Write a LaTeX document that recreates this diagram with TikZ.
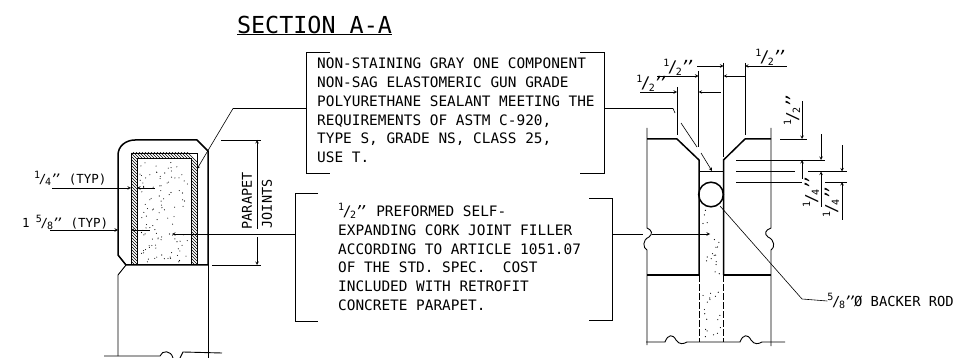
\documentclass[tikz,border=0pt]{standalone}
\usepackage{fontspec}
\setmainfont{DejaVu Sans Mono}
\usetikzlibrary{positioning}
\newcommand{\fracmark}[2]{\raisebox{.42em}{\fontsize{10}{10}\selectfont #1}\kern-.1em/\kern-.1em\raisebox{-.14em}{\fontsize{10}{10}\selectfont #2}}
\newcommand{\inchmark}{\kern-.1em\textit{'\kern-.3em'}}
\tikzstyle{note}=[inner sep=0pt,anchor=north west,align=left,font=\fontsize{14.4}{18.75}\selectfont]
\tikzstyle{dimlabel}=[inner sep=0pt,font=\fontsize{12.5}{15}\selectfont]
\tikzstyle{fraclabel}=[inner sep=0pt,font=\fontsize{16}{18}\selectfont]
\tikzstyle{thinline}=[line width=.6pt]
\tikzstyle{medline}=[line width=.9pt]
\tikzstyle{heavy}=[line width=1.5pt,line join=round]
\tikzstyle{pre}=[<-,>=stealth,line width=.6pt]
\tikzstyle{filler}=[dash pattern=on 7pt off 2pt,line width=.9pt]

\begin{document}
\begin{tikzpicture}[x=1pt,y=-1pt]
        \useasboundingbox (0,0) rectangle (956,358);

        \node[inner sep=0pt,font=\fontsize{23.4}{25}\selectfont] (title) at (314.5,25) {SECTION A-A};
        \draw[medline] (237,34.5) -- (392,34.5);

        \node[note] (sealant) at (317,58) {NON-STAINING GRAY ONE COMPONENT\\NON-SAG ELASTOMERIC GUN GRADE\\POLYURETHANE SEALANT MEETING THE\\REQUIREMENTS OF ASTM C-920,\\TYPE S, GRADE NS, CLASS 25,\\USE T.};
        \node[note] (cork) at (338,203) {\fracmark{1}{2}\inchmark\ PREFORMED SELF-\\EXPANDING CORK JOINT FILLER\\ACCORDING TO ARTICLE 1051.07\\OF THE STD. SPEC.\ \ COST\\INCLUDED WITH RETROFIT\\CONCRETE PARAPET.};

        \draw[medline] (330,52) -- (306.5,52) -- (306.5,173) -- (330,173);
        \draw[medline] (580,52) -- (604,52) -- (604,173) -- (580,173);
        \draw[medline] (318,193.5) -- (295,193.5) -- (295,321) -- (318,321);
        \draw[medline] (589,198) -- (612,198) -- (612,320) -- (589,320);

        \coordinate (seall) at (306.5,108.5);
        \coordinate (sealr) at (604,108.5);
        \coordinate (corkl) at (295,234);
        \coordinate (corkr) at (612,234);

        % parapet section
        \begin{scope}
                \clip (131,153) rectangle (197,265);
                \foreach \s in {0,3,...,180} {
                        \draw[line width=.6pt] (125+\s,270) -- (125+\s-120,150);
                }
        \end{scope}
        \fill[white] (137,158) rectangle (191,265);
        \draw[medline] (137,265) -- (137,158) -- (191,158) -- (191,265);
        \draw[medline] (131,265) -- (131,153) -- (197,153) -- (197,265);
        \pgfmathsetseed{7}
        \foreach \i in {1,...,110} {
                \pgfmathsetmacro{\dotx}{140+48*rnd}
                \pgfmathsetmacro{\doty}{161+101*rnd}
                \fill (\dotx,\doty) circle (.55pt);
        }
        \draw[heavy] (126,265) -- (118,255) -- (118,155) .. controls (118,146) and (126,140) .. (135,140) -- (197,140) -- (208,151) -- (208,265) -- cycle;
        \draw[medline] (126,265) -- (118,275) -- (118,356);
        \draw[medline] (208.5,265) -- (208.5,358);
        \draw[medline] (104,356) -- (160,356) .. controls (162,350) and (171,350) .. (173,358);
        \draw[medline] (180,358) -- (183,352) -- (222,353);

        \node[dimlabel,anchor=west] (quarter) at (34,178) {\fracmark{1}{4}\inchmark\ (TYP)};
        \node[dimlabel,anchor=west] (fivee) at (22,222) {1\kern.5em\fracmark{5}{8}\inchmark\ (TYP)};
        \coordinate (qtail) at (52,188);
        \coordinate (ftail) at (50,230);
        \draw[pre] (131,188) -- (qtail);
        \draw[pre] (137,188) -- (155,188);
        \draw[pre] (118,230) -- (ftail);
        \draw[pre] (131,230) -- (150,230);
        \draw[pre] (172,234) -- (corkl);

        \draw[pre] (197,169) -- (233,108.5) -- (seall);

        \node[dimlabel,rotate=90,anchor=west,font=\fontsize{13.5}{15}\selectfont] (parapet) at (247,229.5) {PARAPET};
        \node[dimlabel,rotate=90,anchor=west,font=\fontsize{13.5}{15}\selectfont] (joints) at (267,228.5) {JOINTS};
        \draw[thinline] (221,140) -- (261,140);
        \draw[thinline] (212,265) -- (261,265);
        \draw[pre] (257,140) -- (257,229);
        \draw[pre] (257,265) -- (257,237);

        % joint detail
        \draw[medline] (647,128) -- (647,228) .. controls (652,230) and (653,234) .. (649,237) .. controls (642,240) and (643,248) .. (647,250) -- (647,345);
        \draw[medline] (771,128) -- (771,228) .. controls (765,230) and (764,234) .. (768,237) .. controls (775,240) and (775,248) .. (771,250) -- (771,346);
        \draw[heavy] (647,139) -- (677,139) -- (699,160) -- (699,275);
        \draw[heavy] (771,139) -- (745,139) -- (723.5,160) -- (723.5,275);
        \draw[heavy] (647,275) -- (699,275) (723.5,275) -- (771,275);
        \draw[medline] (699,171.5) -- (723.5,171.5);
        \draw[heavy] (711,194.5) circle (12.3pt);
        \draw[filler] (699,275) -- (699,342);
        \draw[filler] (723.5,275) -- (723.5,342);
        \foreach \i in {1,...,36} {
                \pgfmathsetmacro{\dotx}{702+19*rnd}
                \pgfmathsetmacro{\doty}{209+132*rnd}
                \fill (\dotx,\doty) circle (.6pt);
        }
        \draw[medline] (646,342) -- (665,342) .. controls (668,334) and (673,334) .. (676,340) .. controls (679,345) and (684,344) .. (687,342) -- (740,342) .. controls (743,334) and (748,334) .. (751,340) .. controls (754,345) and (759,344) .. (762,342) -- (785,342);

        \draw[thinline] (677,87) -- (677,135);
        \draw[thinline] (698.5,71) -- (698.5,147);
        \draw[thinline] (723.5,63) -- (723.5,157);
        \draw[thinline] (745,63) -- (745,135);

        \node[fraclabel,anchor=center] (topa) at (771,57) {\fracmark{1}{2}\inchmark};
        \node[fraclabel,anchor=center] (topb) at (679,67) {\fracmark{1}{2}\inchmark};
        \node[fraclabel,anchor=center] (topc) at (652,83) {\fracmark{1}{2}\inchmark};
        \coordinate (atail) at (787,66);
        \coordinate (btail) at (657,76);
        \coordinate (ctail) at (640,92);
        \draw[pre] (745,66) -- (atail);
        \draw[pre] (723.5,66) -- (697,66);
        \draw[pre] (723.5,76) -- (745,76);
        \draw[pre] (698.5,76) -- (btail);
        \draw[pre] (677,92) -- (ctail);
        \draw[pre] (698.5,92) -- (721,92);

        \draw[thinline] (780,139) -- (807,139);
        \draw[thinline] (736,160) -- (825,160);
        \draw[thinline] (736,171.5) -- (795,171.5) (808,171.5) -- (847,171.5);
        \draw[thinline] (736,182) -- (802,182) (825,182) -- (847,182);

        \node[fraclabel,rotate=90] (vhalf) at (792,110) {\fracmark{1}{2}\inchmark};
        \node[fraclabel,rotate=90] (vqa) at (811,192) {\fracmark{1}{4}\inchmark};
        \node[fraclabel,rotate=90] (vqb) at (831,202) {\fracmark{1}{4}\inchmark};
        \draw[pre] (802,139) -- (802,101);
        \draw[pre] (802,160) -- (802,179);
        \draw[pre] (821,160) -- (821,134);
        \draw[pre] (821,171.5) -- (821,207);
        \draw[pre] (842,171.5) -- (842,145);
        \draw[pre] (842,182) -- (842,220);

        \draw[thinline] (sealr) -- (673,108.5) -- (675,113);
        \draw[thinline] (681,123) -- (697,147);
        \draw[pre] (712,171) -- (701,153);

        \draw[thinline] (corkr) -- (643,234);
        \draw[pre] (710,234) -- (652,234);

        \node[dimlabel,anchor=east,font=\fontsize{13.8}{16}\selectfont] (rod) at (954,301) {\fracmark{5}{8}\inchmark\kern-.15em Ø BACKER ROD};
        \draw[thinline] (720,206) -- (802,299) -- (rod.west);
\end{tikzpicture}
\end{document}
